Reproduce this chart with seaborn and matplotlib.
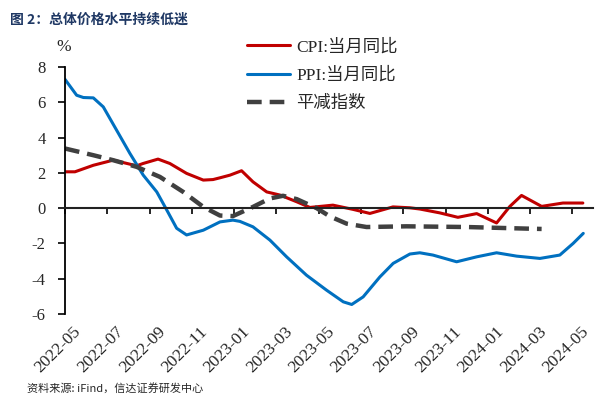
import numpy as np
import pandas as pd
import seaborn as sns
import matplotlib.pyplot as plt
import matplotlib.transforms as mtransforms

# month offsets from 2022-05 and values in %
cpi_x = [0, 0.47, 1.34, 2.28, 3.39, 3.69, 4.40, 4.96, 5.75, 6.54, 7.0, 7.33, 7.80, 8.35,
         8.89, 9.54, 10.17, 10.96, 11.58, 12.67, 13.62, 14.42, 15.51, 16.31, 16.78, 17.73,
         18.58, 19.47, 20.41, 21.04, 21.59, 22.54, 23.55, 24.49]
cpi_y = [2.06, 2.06, 2.43, 2.72, 2.40, 2.53, 2.78, 2.53, 1.97, 1.59, 1.62, 1.72, 1.87, 2.12,
         1.49, 0.92, 0.74, 0.36, 0.04, 0.17, -0.07, -0.30, 0.07, 0.02, -0.05, -0.27,
         -0.52, -0.31, -0.84, 0.10, 0.72, 0.10, 0.29, 0.29]

ppi_x = [0, 0.55, 0.87, 1.34, 1.81, 2.44, 3.07, 3.70, 4.34, 4.81, 5.28, 5.75, 6.54, 7.33,
         7.94, 8.27, 8.89, 9.69, 10.48, 11.42, 12.37, 13.16, 13.56, 14.10, 14.89, 15.52,
         16.31, 16.78, 17.40, 18.52, 19.47, 20.41, 21.36, 22.46, 23.40, 24.03, 24.51]
ppi_y = [7.3, 6.4, 6.27, 6.25, 5.74, 4.42, 3.1, 1.87, 0.92, -0.1, -1.14, -1.52, -1.25, -0.78,
         -0.68, -0.75, -1.06, -1.81, -2.76, -3.8, -4.65, -5.31, -5.46, -5.03, -3.9, -3.13,
         -2.6, -2.53, -2.66, -3.04, -2.76, -2.53, -2.72, -2.85, -2.66, -2.0, -1.43]

defl_x = [0, 1.34, 2.27, 3.39, 4.49, 5.59, 6.54, 7.33, 7.94, 8.89, 9.69, 10.31, 10.96,
          11.90, 12.53, 13.32, 14.26, 16.15, 18.99, 21.83, 22.54]
defl_y = [3.38, 3.0, 2.72, 2.34, 1.77, 0.92, 0.07, -0.42, -0.45, 0.07, 0.55, 0.70, 0.51,
          0.0, -0.47, -0.88, -1.07, -1.03, -1.07, -1.16, -1.18]

tick_pos = list(range(0, 25, 2))
tick_labels = ['2022-05', '2022-07', '2022-09', '2022-11', '2023-01', '2023-03', '2023-05',
               '2023-07', '2023-09', '2023-11', '2024-01', '2024-03', '2024-05']

sns.set_theme(style="white")
plt.rcParams['font.family'] = ['Liberation Serif', 'Noto Sans CJK SC']
plt.rcParams['axes.unicode_minus'] = False

fig = plt.figure(figsize=(6.06, 3.97), dpi=100)
ax = fig.add_axes([65 / 606, 1 - 314 / 397, 528 / 606, 247 / 397])

sns.lineplot(x=cpi_x, y=cpi_y, ax=ax, color='#C00000', lw=2.2, label='CPI:当月同比')
sns.lineplot(x=ppi_x, y=ppi_y, ax=ax, color='#0070C0', lw=2.2, label='PPI:当月同比')
sns.lineplot(x=defl_x, y=defl_y, ax=ax, color='#404040', lw=3.2, ls=(0, (3.3, 1.8)),
             label='平减指数')

ax.set_xlim(0, 24.97)
ax.set_ylim(-6, 8)
ax.set_yticks(range(-6, 9, 2))
ax.tick_params(axis='y', direction='out', length=5, width=1.2, color='black',
               labelsize=12, pad=9, left=True)

ax.spines['top'].set_visible(False)
ax.spines['right'].set_visible(False)
ax.spines['left'].set_color('black')
ax.spines['left'].set_linewidth(1.3)
ax.spines['bottom'].set_position(('data', 0))
ax.spines['bottom'].set_color('#222222')
ax.spines['bottom'].set_linewidth(1.5)
ax.set_xticks(tick_pos)
ax.tick_params(axis='x', direction='out', length=4, width=1.2, color='black',
               bottom=True, labelbottom=False)

sec = ax.secondary_xaxis(0.0)
sec.set_xticks(tick_pos, tick_labels)
sec.spines['bottom'].set_visible(False)
sec.tick_params(axis='x', length=0, pad=7, labelsize=12.5)
shift = mtransforms.ScaledTranslation(8 / 100, 0, fig.dpi_scale_trans)
for lab in sec.get_xticklabels():
    lab.set_rotation(45)
    lab.set_ha('right')
    lab.set_rotation_mode('anchor')
    lab.set_transform(lab.get_transform() + shift)

ax.set_xlabel('')
ax.set_ylabel('')

leg = ax.legend(loc='upper left', bbox_to_anchor=(247 / 606, 1 - 39 / 397),
                bbox_transform=fig.transFigure, frameon=False, fontsize=12.5,
                handlelength=2.5, handletextpad=0.35, labelspacing=0.68, borderpad=0,
                borderaxespad=0)

fig.text(56 / 606, 1 - 47 / 397, '%', fontsize=12.5, va='center')
fig.text(10 / 606, 1 - 20 / 397, '图 2：总体价格水平持续低迷', fontsize=10, fontweight='bold',
         color='#1F3864', va='center', family=['Noto Sans CJK SC', 'DejaVu Sans'])
fig.text(27 / 606, 1 - 388 / 397, '资料来源: iFind，信达证券研发中心', fontsize=8,
         style='italic', va='center', family=['Noto Sans CJK SC', 'DejaVu Sans'])

fig.savefig('out.png', dpi=100)
